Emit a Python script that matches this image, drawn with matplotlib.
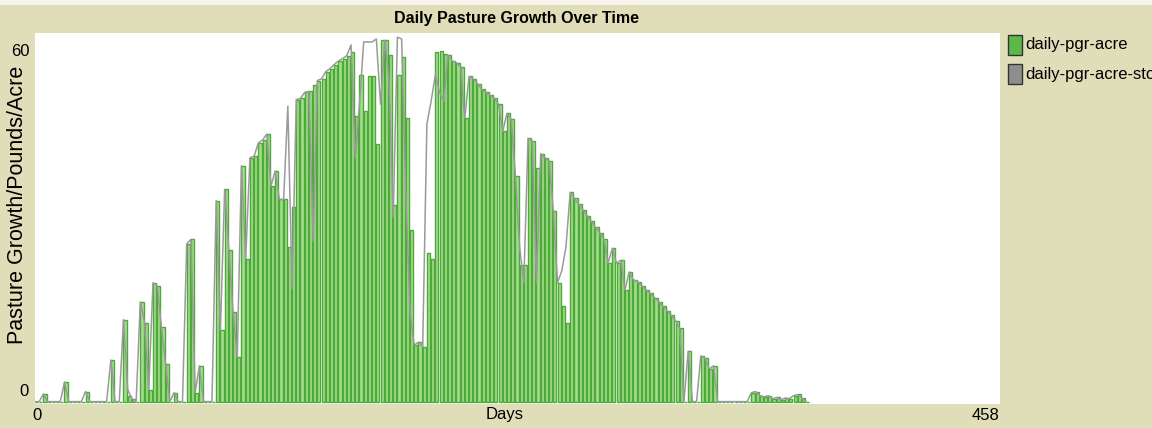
import matplotlib.pyplot as plt
from matplotlib.patches import Rectangle

# days on the x axis (one bar every second day)
days = list(range(0, 368, 2))

pgr_acre = [
    0, 0, 1.3, 0, 0, 0, 0, 3.3, 0, 0,
    0, 0, 1.7, 0, 0, 0, 0, 0, 7, 0,
    0, 13.8, 1, 0.5, 0, 16.8, 13.3, 2, 20, 19.5,
    12.5, 6.3, 0, 1.5, 0, 0, 26.5, 27.3, 1.5, 6,
    0, 0, 0, 33.8, 12, 35.7, 25.5, 15, 7.5, 39.7,
    24, 41, 41.3, 43.5, 44, 45, 36.3, 38.8, 34, 34,
    26, 32.7, 50.8, 51, 52, 52.2, 53.3, 54, 54.3, 55.5,
    56, 56.7, 57.3, 57.7, 58.2, 58.8, 48, 55, 48.8, 54.7,
    54.7, 43.3, 60.8, 60.8, 58.3, 33, 55, 58, 47.7, 28.8,
    9.5, 10, 9.2, 25, 24, 58.8, 59, 58.5, 58.3, 57.3,
    57, 56.3, 47.7, 54.7, 54.3, 53.5, 52.5, 52, 51.5, 51,
    50, 45.5, 48.5, 47.5, 38, 23, 23, 44.3, 43.8, 39.3,
    41.7, 41, 40.5, 32, 20, 16, 13.3, 35.2, 34.2, 33.2,
    32.3, 31.3, 30.3, 29.3, 28.4, 27.4, 23.3, 25.8, 23.3, 23.8,
    18.8, 21.8, 20.5, 20.2, 19.5, 18.8, 18.2, 17.5, 16.8, 16,
    15.3, 14.5, 13.6, 12.3, 0, 8.5, 0, 0, 7.7, 7.3,
    5.5, 6, 0, 0, 0, 0, 0, 0, 0, 0,
    1.5, 1.7, 1, 0.8, 1, 0.5, 0.7, 0.3, 0.6, 0.5,
    1, 1.2, 0.6, 0,
]

pgr_acre_stocked = [
    0, 0, 1.3, 0, 0, 0, 0, 3.3, 0, 0,
    0, 0, 1.7, 0, 0, 0, 0, 0, 7, 0,
    0, 13.8, 2, 0.5, 0, 16.8, 13.3, 2, 20, 19.5,
    12.5, 6.3, 0, 1.5, 0, 0, 26.5, 27.3, 1.5, 6,
    0, 0, 0, 33.8, 12, 35.7, 25.5, 15, 7.5, 39.7,
    24, 41, 41.3, 43.5, 44, 45, 36.3, 38.8, 34, 34,
    49.7, 19, 50.8, 51, 52, 52.2, 27, 54, 54.3, 55.5,
    56, 56.7, 57.3, 57.7, 58.2, 60, 41, 50, 60.5, 60.5,
    60.5, 61, 50, 60.8, 54.3, 31, 61.3, 61, 35, 15,
    9.5, 10, 9.2, 46.7, 50.5, 55, 52, 50.5, 58.3, 57.3,
    57, 56.3, 47.7, 54.7, 54.3, 53.5, 52.5, 52, 51.5, 51,
    50, 45.5, 48.5, 47.5, 38, 26, 20, 44.3, 43.8, 20,
    41.7, 41, 40.5, 32, 20, 22, 26, 35.2, 34.2, 33.2,
    32.3, 31.3, 30.3, 29.3, 28.4, 27.4, 23.3, 25.8, 23.3, 23.8,
    18.8, 21.8, 20.5, 20.2, 19.5, 18.8, 18.2, 17.5, 16.8, 16,
    15.3, 14.5, 13.6, 12.3, 0, 8.5, 0, 0, 7.7, 7.3,
    5.5, 6, 0, 0, 0, 0, 0, 0, 0, 0,
    1.5, 1.7, 1, 0.8, 1, 0.5, 0.7, 0.3, 0.6, 0.5,
    1, 1.2, 0.6, 0,
]

bg = '#e0deb8'
green_edge = '#4caa38'
green_fill = '#a6dc90'
gray_line = '#9a9a9a'
font = ['Liberation Sans', 'DejaVu Sans']

fig = plt.figure(figsize=(11.52, 4.28), dpi=100, facecolor=bg)
ax = fig.add_axes([35 / 1152, 1 - 404 / 428, 965 / 1152, 371 / 428])
ax.set_facecolor('white')

ax.bar(days, pgr_acre, width=1.5, align='edge', color=green_fill,
       edgecolor=green_edge, linewidth=1.0, zorder=2)
ax.plot(days, pgr_acre_stocked, color=gray_line, linewidth=1.1, zorder=3)

ax.set_xlim(0, 458)
ax.set_ylim(-0.4, 62)
ax.set_xticks([])
ax.set_yticks([])
for s in ax.spines.values():
    s.set_visible(False)

# thin whitish strip along the top edge
fig.patches.append(Rectangle((0, 1 - 5 / 428), 1, 5 / 428, transform=fig.transFigure,
                             facecolor='#f6f5ec', edgecolor='none'))

fig.text(516 / 1152, 1 - 18 / 428, 'Daily Pasture Growth Over Time', ha='center', va='center',
         fontsize=11.5, fontweight='bold', family=font)
fig.text(20 / 1152, 1 - 52 / 428, '60', ha='center', va='center', fontsize=12, family=font)
fig.text(24 / 1152, 1 - 392 / 428, '0', ha='center', va='center', fontsize=12, family=font)
fig.text(37 / 1152, 1 - 415 / 428, '0', ha='center', va='center', fontsize=12, family=font)
fig.text(985 / 1152, 1 - 415 / 428, '458', ha='center', va='center', fontsize=12, family=font)
fig.text(505 / 1152, 1 - 415 / 428, 'Days', ha='center', va='center', fontsize=12, family=font)
fig.text(18 / 1152, 1 - 205 / 428, 'Pasture Growth/Pounds/Acre', ha='center', va='center',
         rotation=90, fontsize=15.5, family=font)

# legend on the right (second label runs off the edge, as in the original)
legend_items = [('daily-pgr-acre', '#5cb848', 45),
                ('daily-pgr-acre-stocked', '#8e8e8e', 74)]
for label, col, yc in legend_items:
    fig.patches.append(Rectangle((1008 / 1152, 1 - (yc + 10) / 428), 14 / 1152, 20 / 428,
                                 transform=fig.transFigure, facecolor=col,
                                 edgecolor='#333333', linewidth=1.0))
    fig.text(1025 / 1152, 1 - yc / 428, label, ha='left', va='center', fontsize=12, family=font)

fig.savefig('out.png', dpi=100, facecolor=bg)
